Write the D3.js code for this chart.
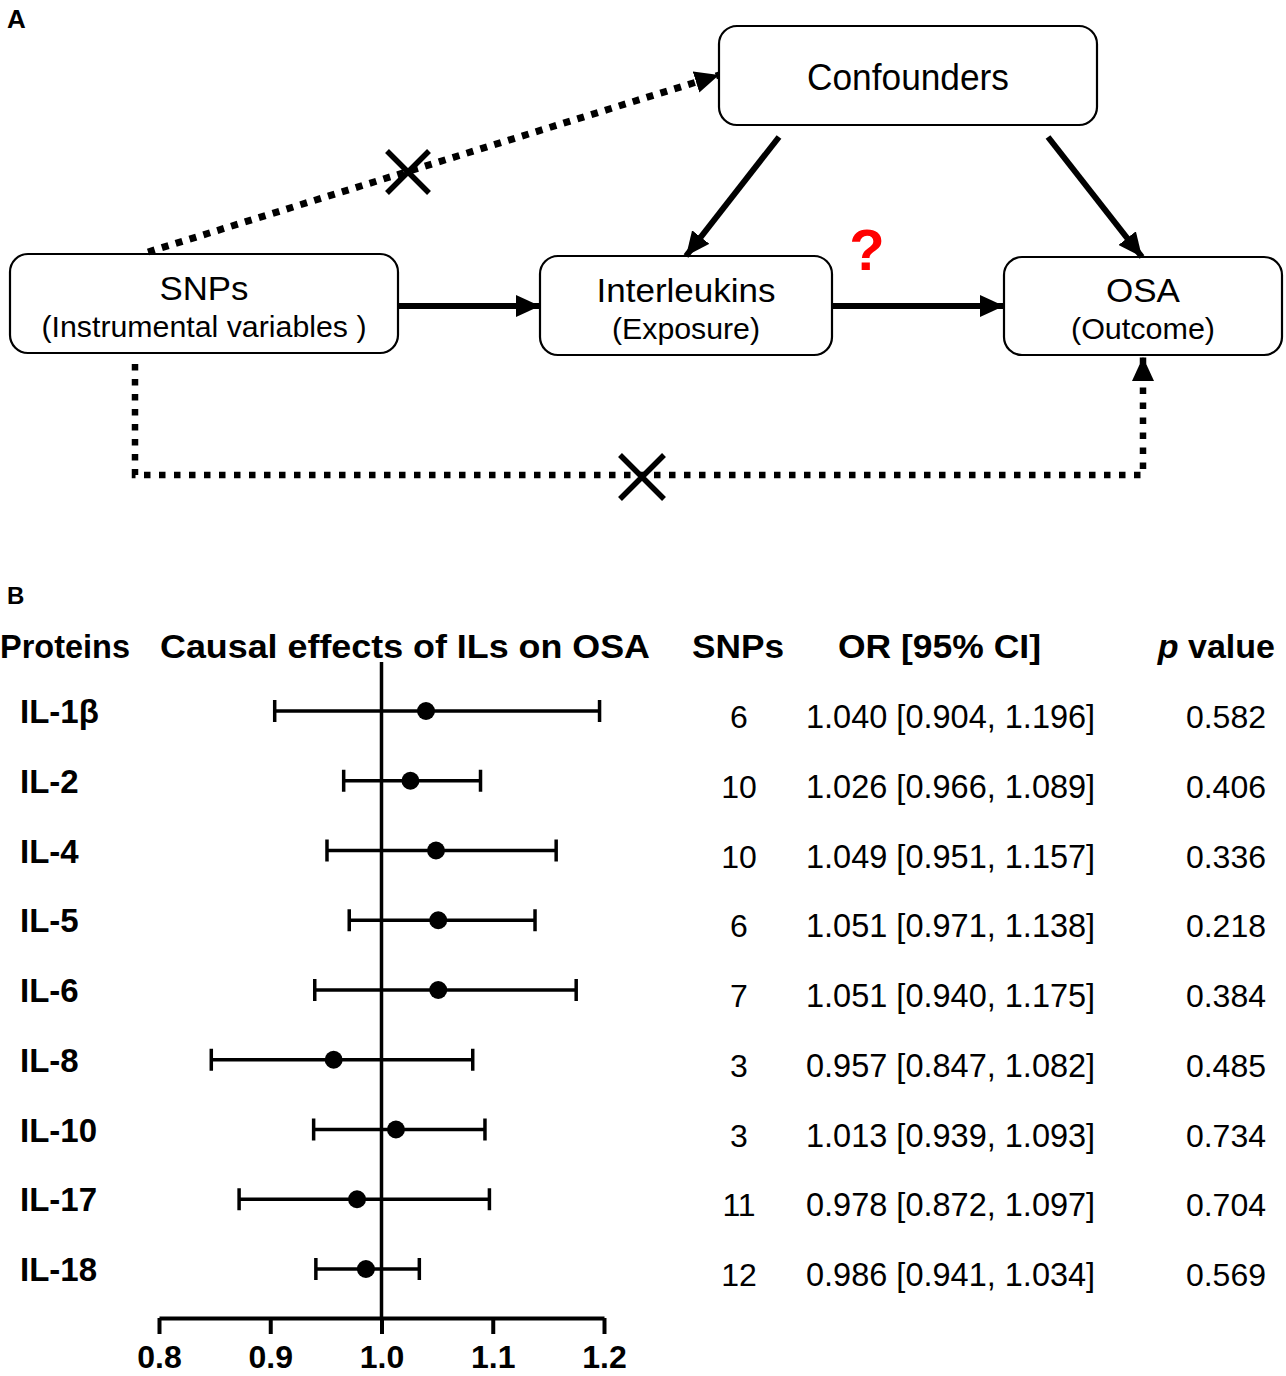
<!DOCTYPE html>
<html>
<head>
<meta charset="utf-8">
<script src="https://cdn.jsdelivr.net/npm/d3@7/dist/d3.min.js"></script>
<style>
  html, body { margin: 0; padding: 0; background: #fff; }
  svg { display: block; font-family: "Liberation Sans", Arial, Helvetica, sans-serif; }
</style>
</head>
<body>
<svg id="chart" width="1286" height="1376"></svg>
<script>
// ---------------- Data ----------------
const proteins = ["IL-1β", "IL-2", "IL-4", "IL-5", "IL-6", "IL-8", "IL-10", "IL-17", "IL-18"];
const snpCounts = [6, 10, 10, 6, 7, 3, 3, 11, 12];
const orValues = [1.040, 1.026, 1.049, 1.051, 1.051, 0.957, 1.013, 0.978, 0.986];
const ciLower = [0.904, 0.966, 0.951, 0.971, 0.940, 0.847, 0.939, 0.872, 0.941];
const ciUpper = [1.196, 1.089, 1.157, 1.138, 1.175, 1.082, 1.093, 1.097, 1.034];
const pValues = ["0.582", "0.406", "0.336", "0.218", "0.384", "0.485", "0.734", "0.704", "0.569"];
const xTicks = [0.8, 0.9, 1.0, 1.1, 1.2];

// Panel A diagram nodes
const nodeNames = ["Confounders", "SNPs", "Interleukins", "OSA"];
const nodeSubtitles = ["", "(Instrumental variables )", "(Exposure)", "(Outcome)"];

const svg = d3.select("#chart");

function txt(g, x, y, s, size, weight, anchor, width, fill) {
  const t = g.append("text")
    .attr("x", x).attr("y", y)
    .attr("font-size", size)
    .attr("font-weight", weight || "normal")
    .attr("text-anchor", anchor || "start")
    .attr("fill", fill || "#000")
    .text(s);
  if (width) t.attr("textLength", width).attr("lengthAdjust", "spacingAndGlyphs");
  return t;
}

// ---------------- Panel A ----------------
const A = svg.append("g");
txt(A, 7, 28, "A", 26, "bold");

const defs = svg.append("defs");
defs.append("marker").attr("id", "ah")
  .attr("viewBox", "0 0 24 22").attr("refX", 24).attr("refY", 11)
  .attr("markerWidth", 24).attr("markerHeight", 22)
  .attr("markerUnits", "userSpaceOnUse").attr("orient", "auto")
  .append("path").attr("d", "M0,0 L24,11 L0,22 Z").attr("fill", "#000");

const boxes = [
  {x: 719, y: 26, w: 378, h: 99},
  {x: 10, y: 254, w: 388, h: 99},
  {x: 540, y: 256, w: 292, h: 99},
  {x: 1004, y: 257, w: 278, h: 98}
];
const titleLayout = [
  {cx: 908, by: 90, size: 36, w: 202},
  {cx: 204, by: 300, size: 33, w: 89},
  {cx: 686, by: 302, size: 33, w: 179},
  {cx: 1143, by: 302, size: 33, w: 74}
];
const subLayout = [
  null,
  {cx: 204, by: 337, size: 30, w: 325},
  {cx: 686, by: 339, size: 30, w: 148},
  {cx: 1143, by: 339, size: 30, w: 144}
];

boxes.forEach((b, i) => {
  A.append("rect").attr("x", b.x).attr("y", b.y).attr("width", b.w).attr("height", b.h)
    .attr("rx", 18).attr("ry", 18).attr("fill", "#fff").attr("stroke", "#000").attr("stroke-width", 2.2);
  const tl = titleLayout[i];
  txt(A, tl.cx, tl.by, nodeNames[i], tl.size, "normal", "middle", tl.w);
  if (subLayout[i]) {
    const sl = subLayout[i];
    txt(A, sl.cx, sl.by, nodeSubtitles[i], sl.size, "normal", "middle", sl.w);
  }
});

const line = d3.line();
const solid = [
  [[398, 306], [540, 306]],
  [[832, 306], [1004, 306]],
  [[779, 137], [686, 256]],
  [[1048, 137], [1142, 257]]
];
solid.forEach(p => {
  A.append("path").attr("d", line(p)).attr("fill", "none")
    .attr("stroke", "#000").attr("stroke-width", 6).attr("marker-end", "url(#ah)");
});

// dotted arrows
A.append("path").attr("d", line([[148, 252], [719, 75]])).attr("fill", "none")
  .attr("stroke", "#000").attr("stroke-width", 7).attr("stroke-dasharray", "7,7.5")
  .attr("marker-end", "url(#ah)");
A.append("path").attr("d", line([[135, 364], [135, 475], [1143, 475], [1143, 357]])).attr("fill", "none")
  .attr("stroke", "#000").attr("stroke-width", 6.5).attr("stroke-dasharray", "6.5,8.5")
  .attr("marker-end", "url(#ah)");

function xMark(cx, cy, dx, dy) {
  A.append("path").attr("d", `M${cx - dx},${cy - dy}L${cx + dx},${cy + dy}M${cx - dx},${cy + dy}L${cx + dx},${cy - dy}`)
    .attr("stroke", "#000").attr("stroke-width", 5.5).attr("fill", "none");
}
xMark(408, 172, 21, 21);
xMark(642, 477, 22, 22);

txt(A, 867, 270, "?", 58, "bold", "middle", null, "#ff0000");

// ---------------- Panel B ----------------
const B = svg.append("g");
txt(B, 7, 604, "B", 24, "bold");

txt(B, 0, 658, "Proteins", 34, "bold", "start", 130);
txt(B, 160, 658, "Causal effects of ILs on OSA", 34, "bold", "start", 490);
txt(B, 692, 658, "SNPs", 34, "bold", "start", 92);
txt(B, 838, 658, "OR [95% CI]", 34, "bold", "start", 203);
const ph = B.append("text").attr("x", 1275).attr("y", 658).attr("font-size", 34)
  .attr("font-weight", "bold").attr("text-anchor", "end");
ph.append("tspan").attr("font-style", "italic").text("p");
ph.append("tspan").text(" value");

const x = d3.scaleLinear().domain([0.8, 1.2]).range([159, 604]);
const y = d3.scalePoint().domain(proteins).range([711, 1269]);

B.append("line").attr("x1", x(1)).attr("x2", x(1)).attr("y1", 662).attr("y2", 1318)
  .attr("stroke", "#000").attr("stroke-width", 3.5);

const axis = d3.axisBottom(x).tickValues(xTicks).tickFormat(d3.format(".1f"))
  .tickSize(16).tickSizeOuter(0).tickPadding(8);
const ag = B.append("g").attr("transform", "translate(0,1318)").call(axis);
ag.attr("font-size", 32).attr("font-family", "Liberation Sans, Arial, sans-serif");
ag.select(".domain").attr("stroke-width", 4).attr("stroke", "#000");
ag.selectAll(".tick line").attr("stroke-width", 4).attr("stroke", "#000");
ag.selectAll(".tick text").attr("font-size", 32).attr("font-weight", "bold")
  .attr("fill", "#000").attr("dy", "0.8em");

const rows = B.selectAll("g.row").data(proteins).join("g").attr("class", "row");
rows.append("line")
  .attr("x1", (d, i) => x(ciLower[i])).attr("x2", (d, i) => x(ciUpper[i]))
  .attr("y1", d => y(d)).attr("y2", d => y(d))
  .attr("stroke", "#000").attr("stroke-width", 3.5);
rows.append("line")
  .attr("x1", (d, i) => x(ciLower[i])).attr("x2", (d, i) => x(ciLower[i]))
  .attr("y1", d => y(d) - 11).attr("y2", d => y(d) + 11)
  .attr("stroke", "#000").attr("stroke-width", 3.5);
rows.append("line")
  .attr("x1", (d, i) => x(ciUpper[i])).attr("x2", (d, i) => x(ciUpper[i]))
  .attr("y1", d => y(d) - 11).attr("y2", d => y(d) + 11)
  .attr("stroke", "#000").attr("stroke-width", 3.5);
rows.append("circle")
  .attr("cx", (d, i) => x(orValues[i])).attr("cy", d => y(d)).attr("r", 9).attr("fill", "#000");

rows.append("text").attr("x", 20).attr("y", d => y(d) + 12)
  .attr("font-size", 33).attr("font-weight", "bold").text(d => d);

rows.append("text").attr("x", 739).attr("y", d => y(d) + 17).attr("text-anchor", "middle")
  .attr("font-size", 32).text((d, i) => snpCounts[i]);
rows.append("text").attr("x", 806).attr("y", d => y(d) + 17)
  .attr("font-size", 32.5)
  .text((d, i) => `${orValues[i].toFixed(3)} [${ciLower[i].toFixed(3)}, ${ciUpper[i].toFixed(3)}]`);
rows.append("text").attr("x", 1266).attr("y", d => y(d) + 17).attr("text-anchor", "end")
  .attr("font-size", 32).text((d, i) => pValues[i]);
</script>
</body>
</html>
